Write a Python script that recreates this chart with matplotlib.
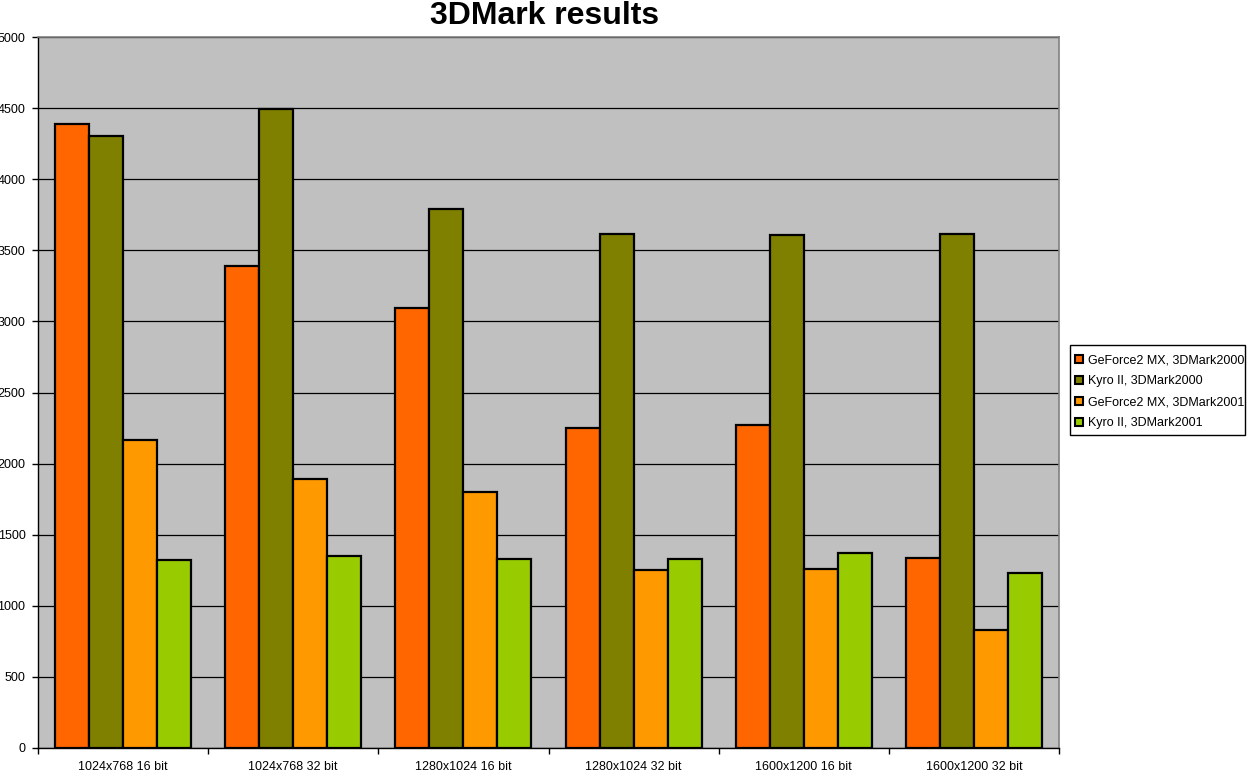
import matplotlib
matplotlib.use("Agg")
import matplotlib.pyplot as plt
import numpy as np
from matplotlib.patches import Patch, Rectangle

plt.rcParams["font.family"] = ["Liberation Sans", "DejaVu Sans"]

# chart data
resolutions = ["1024x768 16 bit", "1024x768 32 bit", "1280x1024 16 bit",
               "1280x1024 32 bit", "1600x1200 16 bit", "1600x1200 32 bit"]
series_names = ["GeForce2 MX, 3DMark2000", "Kyro II, 3DMark2000",
                "GeForce2 MX, 3DMark2001", "Kyro II, 3DMark2001"]
geforce_2000 = [4388, 3390, 3094, 2248, 2271, 1336]
kyro_2000 = [4304, 4494, 3790, 3617, 3610, 3617]
geforce_2001 = [2166, 1892, 1800, 1252, 1259, 832]
kyro_2001 = [1322, 1352, 1329, 1329, 1371, 1231]
y_ticks = list(range(0, 5001, 500))

colors = ["#FF6600", "#808000", "#FF9900", "#99CC00"]
series = [geforce_2000, kyro_2000, geforce_2001, kyro_2001]

W, H = 1250, 772
fig = plt.figure(figsize=(W / 100, H / 100), dpi=100)
ax = fig.add_axes([38 / W, 24 / H, (1059 - 38) / W, (748 - 37) / H])
ax.set_facecolor("#C0C0C0")

x = np.arange(len(resolutions))
w = 0.2
for i, (vals, col) in enumerate(zip(series, colors)):
    ax.bar(x + (i - 1.5) * w, vals, width=w, color=col, edgecolor="black",
           linewidth=1.6, zorder=3, label=series_names[i])

ax.set_xlim(-0.5, len(resolutions) - 0.5)
ax.set_ylim(0, 5000)
ax.set_yticks(y_ticks)
ax.yaxis.grid(True, color="black", linewidth=0.9)
ax.set_axisbelow(True)

# group boundary ticks on x, labels at the centers
ax.set_xticks(np.arange(-0.5, len(resolutions)), labels=[""] * (len(resolutions) + 1))
ax.set_xticks(x, labels=resolutions, minor=True)
ax.tick_params(axis="x", which="major", length=4, width=1, direction="out")
ax.tick_params(axis="x", which="minor", length=0, pad=9, labelsize=9)
ax.tick_params(axis="y", length=4, width=1, pad=5, labelsize=9)

for side in ["left", "bottom"]:
    ax.spines[side].set_color("black")
    ax.spines[side].set_linewidth(1)
for side in ["top", "right"]:
    ax.spines[side].set_color("#808080")
    ax.spines[side].set_linewidth(1.2)

fig.text(545 / W, 1 - 24 / H, "3DMark results", ha="center", va="baseline",
         fontsize=23, fontweight="bold")

# legend without its own frame, box drawn separately to match the tight right edge
handles = [Patch(facecolor=c, edgecolor="black", linewidth=1.5, label=n)
           for c, n in zip(colors, series_names)]
fig.legend(handles=handles, loc="upper left",
           bbox_to_anchor=(1075 / W, 1 - 354 / H), fontsize=9, frameon=False,
           handlelength=0.6, handleheight=0.6, handletextpad=0.45,
           labelspacing=0.72, borderpad=0, borderaxespad=0)
fig.patches.append(Rectangle((1070 / W, 1 - 435 / H), 175 / W, 90 / H,
                             transform=fig.transFigure, fill=False,
                             edgecolor="black", linewidth=1))

fig.savefig("out.png", dpi=100)
